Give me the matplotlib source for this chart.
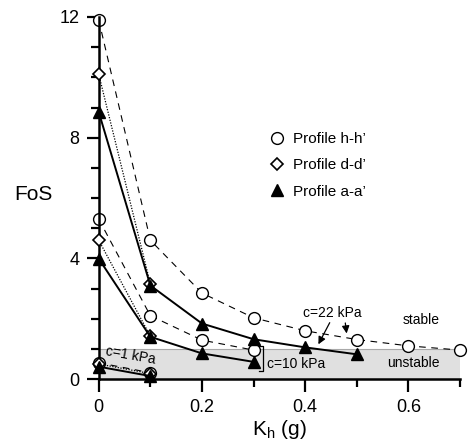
# FoS vs horizontal seismic coefficient for three profiles
import matplotlib
matplotlib.use("Agg")
import matplotlib.pyplot as plt
from matplotlib.lines import Line2D
from matplotlib.ticker import MultipleLocator

plt.rcParams['font.family'] = ['Liberation Sans', 'DejaVu Sans']
plt.rcParams['mathtext.default'] = 'regular'

# ---- data ----
kh = [0, 0.1, 0.2, 0.3, 0.4, 0.5, 0.6, 0.7]

# Profile h-h' (circles, dashed)
hh_c22 = [11.9, 4.6, 2.85, 2.03, 1.6, 1.31, 1.1, 0.96]
hh_c10 = [5.3, 2.1, 1.29, 0.96]
hh_c1 = [0.54, 0.21]

# Profile d-d' (diamonds, dotted)
dd_c22 = [10.1, 3.15]
dd_c10 = [4.6, 1.42]
dd_c1 = [0.5, 0.18]

# Profile a-a' (triangles, solid)
aa_c22 = [8.85, 3.1, 1.84, 1.32, 1.05, 0.82]
aa_c10 = [3.99, 1.4, 0.85, 0.57]
aa_c1 = [0.41, 0.1]

labels = ["Profile h-h\u2019", "Profile d-d\u2019", "Profile a-a\u2019"]

# ---- figure ----
fig = plt.figure(figsize=(4.68, 4.47), dpi=100)
ax = fig.add_axes([0.211, 0.152, 0.772, 0.81])
ax.set_xlim(0, 0.7)
ax.set_ylim(0, 12)

# unstable band
ax.fill_between([0, 0.7], 0, 1, facecolor="#e0e0e0", edgecolor="none", zorder=0)
ax.plot([0, 0.7], [1, 1], color="#a8a8a8", lw=0.8, zorder=0.5)

circ = dict(marker='o', ms=8.5, mfc='white', mec='black', mew=1.0, color='black', clip_on=False)
diam = dict(marker='D', ms=6, mfc='white', mec='black', mew=1.2, color='black', clip_on=False)
tri = dict(marker='^', ms=8, mfc='black', mec='black', color='black', clip_on=False)

for ys in (hh_c22, hh_c10, hh_c1):
    ax.plot(kh[:len(ys)], ys, ls=(0, (6, 5)), lw=0.8, zorder=2, **circ)
for ys in (dd_c22, dd_c10, dd_c1):
    ax.plot(kh[:len(ys)], ys, ls=(0, (1, 1.2)), lw=0.9, zorder=3, **diam)
for ys in (aa_c22, aa_c10, aa_c1):
    ax.plot(kh[:len(ys)], ys, ls='-', lw=1.4, zorder=4, **tri)

# axes styling
for s in ('top', 'right'):
    ax.spines[s].set_visible(False)
for s in ('left', 'bottom'):
    ax.spines[s].set_linewidth(1.8)
ax.yaxis.set_minor_locator(MultipleLocator(1))
ax.xaxis.set_minor_locator(MultipleLocator(0.1))
ax.tick_params(which='major', length=9, width=1.6, labelsize=13, direction='out', pad=5)
ax.tick_params(which='minor', length=5.5, width=1.6, direction='out')
ax.set_xticks([0, 0.2, 0.4, 0.6])
ax.set_xticklabels(["0", "0.2", "0.4", "0.6"])
ax.set_yticks([0, 4, 8, 12])
ax.set_yticklabels(["0", "4", "8", "12"])

ax.set_ylabel("FoS", fontsize=15, rotation=0, va='center')
ax.yaxis.set_label_coords(-0.18, 0.51)
ax.set_xlabel("K$_h$ (g)", fontsize=15, labelpad=2)

# legend
handles = [Line2D([], [], ls='none', marker='o', ms=8.5, mfc='white', mec='black', mew=1.0),
           Line2D([], [], ls='none', marker='D', ms=6, mfc='white', mec='black', mew=1.2),
           Line2D([], [], ls='none', marker='^', ms=8, mfc='black', mec='black')]
ax.legend(handles, labels, frameon=False, fontsize=11, loc='upper left',
          bbox_to_anchor=(0.435, 0.72), handlelength=1.0, handletextpad=0.5, labelspacing=0.8)

# annotations
ax.text(0.453, 2.18, "c=22 kPa", fontsize=10, ha='center', va='center')
ax.annotate("", xy=(0.423, 1.07), xytext=(0.45, 1.95),
            arrowprops=dict(arrowstyle='-|>', color='black', lw=0.9, mutation_scale=11))
ax.annotate("", xy=(0.481, 1.42), xytext=(0.477, 1.95),
            arrowprops=dict(arrowstyle='-|>', color='black', lw=0.9, mutation_scale=11))
ax.plot([0.311, 0.318, 0.318, 0.311], [1.08, 1.08, 0.27, 0.27], color='black', lw=0.9, zorder=5)
ax.text(0.326, 0.5, "c=10 kPa", fontsize=10, ha='left', va='center')
ax.text(0.061, 0.79, "c=1 kPa", fontsize=10, ha='center', va='center', rotation=-10)
ax.text(0.625, 1.97, "stable", fontsize=10, ha='center', va='center')
ax.text(0.61, 0.52, "unstable", fontsize=10, ha='center', va='center')

plt.savefig("out.png", dpi=100)
